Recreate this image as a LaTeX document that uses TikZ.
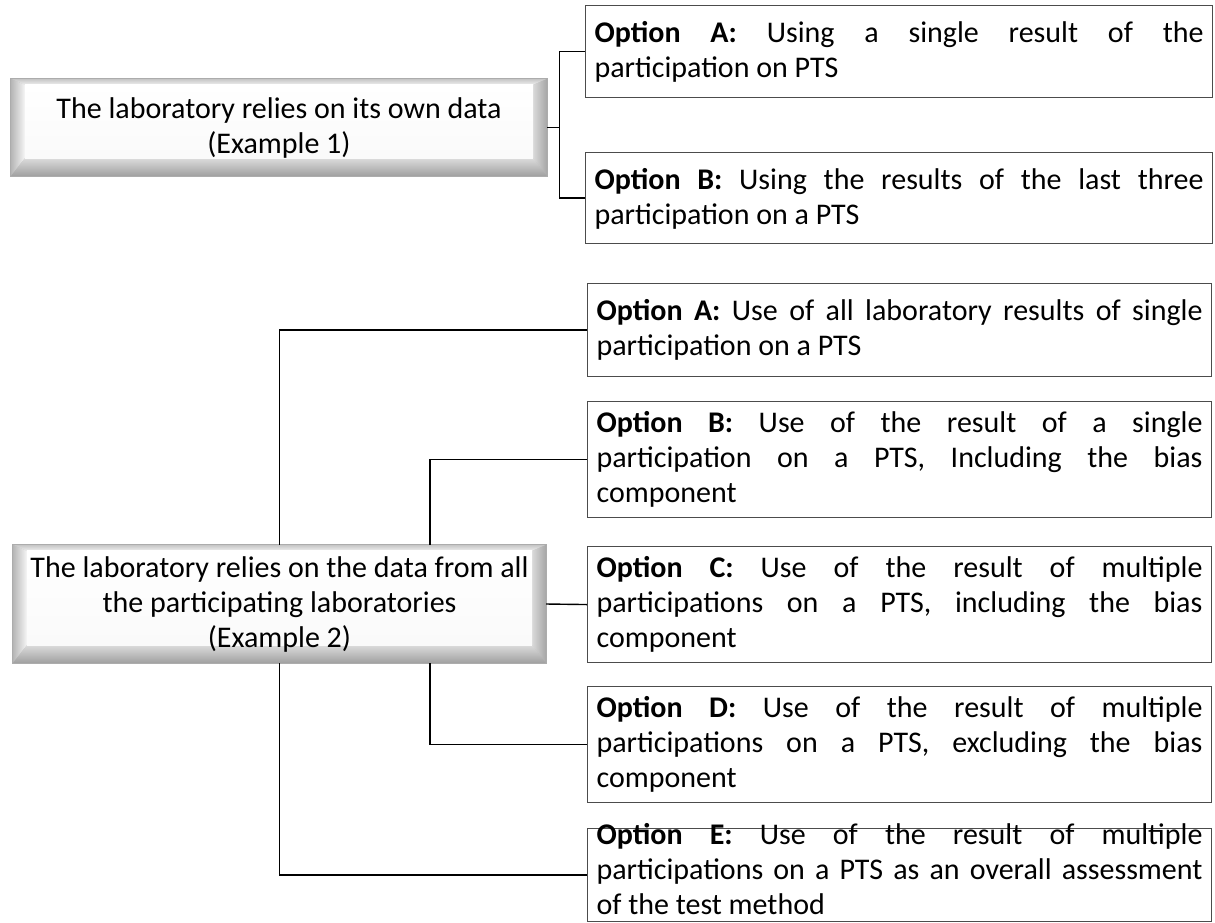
\documentclass[tikz,border=0pt]{standalone}
\usepackage{fontspec}
\setmainfont{Carlito}
\usetikzlibrary{backgrounds,calc}
\newcommand\optfont{\fontsize{30}{35}\selectfont}
\newcommand\jline[1]{\makebox[\linewidth][s]{#1}}
\newcommand\optpar[4]{\parbox[c][#1][t]{#2}{\optfont\rule{0pt}{#3}#4}}
\newcommand\drawbevel[1]{%
  \fill[gray!55] (#1.north west) rectangle (#1.south east);
  \shade[top color=gray!45, bottom color=gray!12] let \p1=(#1.north west), \p2=(#1.south east) in
    (\x1,\y1) -- (\x2,\y1) -- (\x2-14pt,\y1-6pt) -- (\x1+14pt,\y1-6pt) -- cycle;
  \shade[left color=gray!58, right color=gray!8] let \p1=(#1.north west), \p2=(#1.south east) in
    (\x1,\y1) -- (\x1+14pt,\y1-6pt) -- (\x1+14pt,\y2+18pt) -- (\x1,\y2) -- cycle;
  \shade[left color=gray!30, right color=gray!70] let \p1=(#1.north west), \p2=(#1.south east) in
    (\x2,\y1) -- (\x2-14pt,\y1-6pt) -- (\x2-14pt,\y2+18pt) -- (\x2,\y2) -- cycle;
  \shade[top color=gray!28, bottom color=gray!75] let \p1=(#1.north west), \p2=(#1.south east) in
    (\x1,\y2) -- (\x1+14pt,\y2+18pt) -- (\x2-14pt,\y2+18pt) -- (\x2,\y2) -- cycle;
  \shade[top color=white, bottom color=gray!4] let \p1=(#1.north west), \p2=(#1.south east) in
    (\x1+14pt,\y1-6pt) rectangle (\x2-14pt,\y2+18pt);
  \draw[gray!65, line width=0.8pt] (#1.north west) rectangle (#1.south east);
}
\tikzset{
  optbox/.style={draw=black!70, line width=1.1pt, inner xsep=9pt, inner ysep=0pt, anchor=north west},
  conn/.style={draw=black, line width=1.4pt},
  bevelnode/.style={inner sep=0pt, align=center, font=\fontsize{30}{35}\selectfont},
}
\begin{document}
\begin{tikzpicture}[x=1pt,y=-1pt]
\useasboundingbox (0,0) rectangle (1215,922);

% bevel boxes
\node[bevelnode, minimum width=536pt, minimum height=97pt] (b1) at (279,127.5)
  {The laboratory relies on its own data\\(Example 1)};
\node[bevelnode, minimum width=533pt, minimum height=118pt] (b2) at (279.5,604)
  {The laboratory relies on the data from all\\the participating laboratories\\(Example 2)};
\begin{scope}[on background layer]
  \drawbevel{b1}
  \drawbevel{b2}
\end{scope}

% option boxes, group 1
\node[optbox] (oa1) at (585,5) {\optpar{92pt}{609pt}{37pt}{%
  \jline{\textbf{Option A:} Using a single result of the}\\participation on PTS}};
\node[optbox] (ob1) at (585,152) {\optpar{91pt}{609pt}{37pt}{%
  \jline{\textbf{Option B:} Using the results of the last three}\\participation on a PTS}};

% option boxes, group 2
\node[optbox] (oa2) at (587,283) {\optpar{93pt}{606pt}{37pt}{%
  \jline{\textbf{Option A:} Use of all laboratory results of single}\\participation on a PTS}};
\node[optbox] (ob2) at (587,401) {\optpar{116pt}{606pt}{31pt}{%
  \jline{\textbf{Option B:} Use of the result of a single}\\
  \jline{participation on a PTS, Including the bias}\\component}};
\node[optbox] (oc2) at (587,546) {\optpar{116pt}{606pt}{31pt}{%
  \jline{\textbf{Option C:} Use of the result of multiple}\\
  \jline{participations on a PTS, including the bias}\\component}};
\node[optbox] (od2) at (587,686) {\optpar{116pt}{606pt}{31pt}{%
  \jline{\textbf{Option D:} Use of the result of multiple}\\
  \jline{participations on a PTS, excluding the bias}\\component}};
\node[optbox] (oe) at (587,828) {\parbox[c][93pt][t]{606pt}{\optfont\vspace*{-5pt}%
  \jline{\textbf{Option E:} Use of the result of multiple}\\
  \jline{participations on a PTS as an overall assessment}\\of the test method}};

% connectors, group 1
\draw[conn] (b1.east) -- ++(12,0) coordinate (j1) |- (oa1.west);
\draw[conn] (j1) |- (ob1.west);

% connectors, group 2
\coordinate (dx) at (430,0);
\draw[conn] (b2.north) |- (oa2.west);
\draw[conn] (b2.north -| dx) |- (ob2.west);
\draw[conn] (b2.east) -- (oc2.west);
\draw[conn] (b2.south -| dx) |- (od2.west);
\draw[conn] (b2.south) |- (oe.west);
\end{tikzpicture}
\end{document}
